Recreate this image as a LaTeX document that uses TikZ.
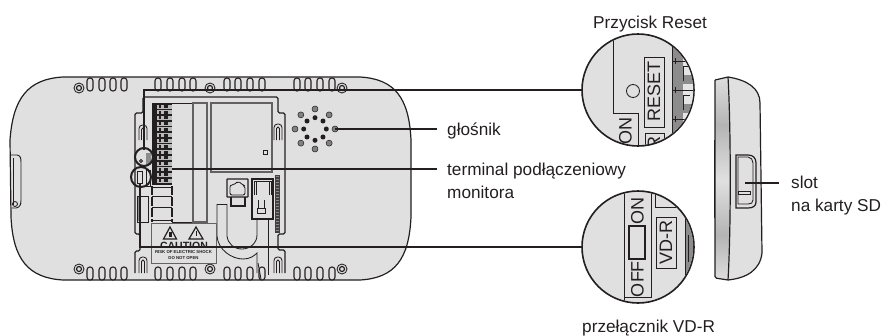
\documentclass[tikz,border=0pt]{standalone}
\usepackage{fontspec}
\usetikzlibrary{calc}
\setmainfont{Liberation Sans}
\definecolor{ink}{HTML}{231F20}
\definecolor{bodyg}{HTML}{E0E0E0}
\definecolor{midg}{HTML}{8C8C8C}
\tikzset{
 x=1pt,y=-1pt,
 thin line/.style={draw=ink,line width=0.85pt},
 med line/.style={draw=ink,line width=1.2pt},
 leader/.style={draw=ink,line width=2pt},
 lens/.style={circle,draw=ink,line width=1.6pt,minimum size=112pt,inner sep=0pt},
 small lens/.style={circle,draw=ink,line width=2pt,inner sep=0pt},
 label/.style={font=\fontsize{17.2}{20}\selectfont,text=ink,inner sep=0pt,align=left},
 tiny cap/.style={font=\bfseries\fontsize{4.3}{5}\selectfont,text=ink,inner sep=0pt},
 boxed/.style={draw=ink,line width=0.9pt,fill=bodyg},
 lens text/.style={font=\fontsize{18}{19}\selectfont,text=ink,inner sep=0pt,rotate=90},
 vent/.style={draw=ink,line width=1.1pt,fill=bodyg,rounded corners=2.8pt},
}
\newcommand{\slotgroup}[5]{\foreach \sx in {#1,#2,#3,#4}{\draw[vent] (\sx-3,#5) rectangle (\sx+3,#5+13);}}
\newcommand{\screwmark}[2]{\draw[thin line,fill=bodyg] (#1,#2) circle[radius=5pt];\draw[med line,fill=bodyg] (#1,#2) circle[radius=2.5pt];}
\newcommand{\keyhole}[3]{\draw[thin line,rounded corners=3.5pt] (#1-4,#3) -- (#1-4,#2) -- (#1+4,#2) -- (#1+4,#3);\draw[thin line,rounded corners=1.5pt] (#1-1.5,#3) -- (#1-1.5,#2+3) -- (#1+1.5,#2+3) -- (#1+1.5,#3);}
\begin{document}
\begin{tikzpicture}
\useasboundingbox (0,0) rectangle (885,335);
% ---------- rear body
\draw[med line,fill=bodyg] (63,77) -- (360,77)
  .. controls (395,79) and (409,98) .. (411,140) -- (411,217)
  .. controls (409,259) and (395,278) .. (360,280) -- (63,280)
  .. controls (28,278) and (13,259) .. (11,217) -- (10,140)
  .. controls (13,98) and (28,79) .. (63,77) -- cycle;
% left notch
\draw[thin line,rounded corners=3pt] (11,155) -- (20,155) -- (21,160) -- (21,203) -- (19,208) -- (11,208);
\draw[thin line,rounded corners=2pt] (13,158) -- (13,205);
\draw[thin line] (15,204) circle[radius=2.5pt];
% vents and screws
\foreach \yy in {78,267}{
 \slotgroup{90}{102}{113}{124}{\yy}
 \slotgroup{158}{170}{182}{193}{\yy}
 \slotgroup{227}{238}{250}{262}{\yy}
 \slotgroup{297}{308}{320}{332}{\yy}
}
\foreach \xx in {79,210,342}{\screwmark{\xx}{88}\screwmark{\xx}{269}}
% inner outline
\draw[med line,rounded corners=1.5pt] (135,273) -- (135,251) -- (140,251) -- (140,234) -- (135,234) -- (135,113) -- (143,113) -- (143,97) -- (278,97) -- (278,113) -- (285,113) -- (285,234) -- (278,234) -- (278,250) -- (285,250) -- (285,273);
\keyhole{143}{125}{140}
\keyhole{143}{257}{273}
\keyhole{278}{124}{140}
\keyhole{278}{257}{273}
% terminal block
\fill[ink] (152,103) rectangle (172,185);
\foreach \i in {0,...,13}{
 \fill[midg!60] (157,104.5+5.7*\i) rectangle (172,108.5+5.7*\i);
 \fill[ink] (159,105+5.7*\i) rectangle (160.5,108+5.7*\i);
 \fill[ink] (164,105+5.7*\i) rectangle (168,108+5.7*\i);
}
\draw[thin line] (172,103) -- (192,103);
\draw[thin line] (172,222) -- (192,222);
\draw[med line,draw=midg!60!ink] (193,103) rectangle (207,222);
\draw[med line,draw=midg!60!ink] (211,103) rectangle (272,172);
\draw[thin line] (263,150) rectangle (267,154);
% lower block
\draw[med line,dash pattern=on 9pt off 2pt] (152,186) -- (152,222) (172,186) -- (172,222);
\foreach \yy in {187,196,207,220}{\draw[thin line] (152,\yy) -- (172,\yy);}
% side small box
\draw[thin line] (137,196) rectangle (148,222);
\fill[midg] (137.5,197) rectangle (141,221);
% sockets
\draw[med line,rounded corners=0.5pt] (227,179) rectangle (248,197);
\draw[med line] (231,197) -- (231,206) -- (245,206) -- (245,197);
\draw[thin line,rounded corners=2pt] (230,185) -- (234,185) -- (238,181) -- (243,185) -- (245,186) -- (245,195) -- (230,195) -- cycle;
\draw[med line] (252,179) rectangle (273,219);
\draw[thin line] (254,181) -- (254,195) (271,181) -- (271,195) (254,181) -- (271,181);
\draw[thin line] (256,195) -- (256,182) (269,195) -- (269,182);
\draw[thin line] (257,208) rectangle (265,213);
\draw[thin line] (258,200) -- (258,208) (264,200) -- (264,208);
% vertical micro text strip
\fill[ink!85] (275,175) rectangle (280,233);
\draw[midg,line width=3pt,dash pattern=on 1pt off 2pt] (277.5,176) -- (277.5,232);
% cable
\draw[thin line] (217,204) -- (227,204);
\draw[thin line] (217,204) -- (217,236) .. controls (218,250) and (232,259) .. (243,259) .. controls (250,259) and (254,256) .. (257,253) -- (257,273);
\draw[thin line] (227,204) -- (227,236) .. controls (228,244) and (234,249) .. (242,249) .. controls (250,249) and (257,243) .. (257,235) -- (257,219);
\draw[thin line] (268,219) -- (268,275);
\draw[thin line] (258,263) -- (261,279);
% caution box
\draw[boxed,draw=ink!70] (151,223) rectangle (216,263);
\draw[med line] (170,227) -- (176.5,239) -- (163.5,239) -- cycle;
\draw[med line] (196,227) -- (203,239) -- (189,239) -- cycle;
\fill[ink] (169,232) rectangle (171.5,237);
\fill[ink] (195.5,231) rectangle (197,235.5);
\begin{scope}
\clip (151,240) rectangle (216,247);
\node[font=\bfseries\fontsize{10.5}{12}\selectfont,text=ink,inner sep=0pt] (cautionlab) at (184,245.5) {CAUTION};
\end{scope}
\node[tiny cap] (risk) at (183.5,252.5) {RISK OF ELECTRIC SHOCK};
\node[tiny cap] (noopen) at (183.5,258.5) {DO NOT OPEN};
% speaker
\foreach \a in {0,45,...,315}{
 \fill[midg!90!ink] ($(315,129)+(\a:20pt)$) circle[radius=3pt];
 \draw[ink,line width=0.5pt] ($(315,129)+(\a:20pt)$) circle[radius=3pt];
 \fill[ink] ($(315,129)+(\a:11.3pt)$) circle[radius=2.5pt];
}
% ---------- small marker circles
\fill[midg] (146,153) rectangle (151,165);
\draw[thin line] (141,161) circle[radius=1.5pt];
\draw[thin line] (137,171) rectangle (142,183);
\draw[thin line] (146,170) rectangle (150,186);
\node[small lens,minimum size=18pt] (markreset) at (144,157) {};
\node[small lens,minimum size=20pt] (markvd) at (141,177) {};
% ---------- lens: reset
\node[lens,fill=bodyg] (lensreset) at (638,90) {};
\begin{scope}
\clip (638,90) circle[radius=55.2pt];
\draw[thin line] (613,30) -- (613,113) -- (638,113) -- (638,150);
\node[lens text] (onlab) at (625.5,131) {ON};
\draw[thin line] (644,57) rectangle (664,127);
\node[lens text] (resetlab) at (654,91.5) {RESET};
\draw[thin line] (645,133) rectangle (664,160);
\node[lens text] (rlab) at (654,143) {R};
\draw[thin line] (633,91) circle[radius=6.5pt];
\fill[midg] (672,30) rectangle (700,150);
\draw[thin line] (672,30) -- (672,150);
\foreach \yy in {61,90,119}{
 \fill[bodyg!85] (683,\yy-6) -- (700,\yy-6) -- (700,\yy+14) -- (683,\yy+14) -- cycle;
 \draw[thin line] (675,\yy-3) -- (675,\yy+3);
 \draw[thin line] (672,\yy) -- (700,\yy);
 \draw[thin line] (683,\yy+20) -- (683,\yy+5) -- (690,\yy+5);
}
\end{scope}
% ---------- lens: VD-R
\node[lens,fill=bodyg] (lensvd) at (638,247) {};
\begin{scope}
\clip (638,247) circle[radius=55.2pt];
\draw[thin line] (624,185) -- (624,310);
\draw[thin line] (651,185) -- (651,298);
\draw[thin line] (624,297) -- (651,297);
\node[lens text] (onsw) at (637.5,211) {ON};
\draw[med line,fill=bodyg] (629,226) rectangle (645,259);
\node[lens text] (offsw) at (637.5,279) {OFF};
\draw[thin line] (656,217) rectangle (676,268);
\node[lens text] (vdr) at (666,242.5) {VD-R};
\draw[thin line] (655,185) rectangle (676,207);
\fill[midg] (685,185) rectangle (700,310);
\draw[thin line] (685,185) -- (685,310);
\draw[thin line] (688,235) -- (688,262);
\end{scope}
% ---------- side view
\fill[bodyg] (728,77) .. controls (747,80) and (760,88) .. (760,103) -- (762,253) .. controls (760,270) and (747,278) .. (728,280) -- cycle;
\begin{scope}
\clip (715,80) -- (728,77) .. controls (731,130) and (731,230) .. (728,280) -- (715,278) -- cycle;
\shade[top color=bodyg,bottom color=midg!65] (710,75) rectangle (735,125);
\shade[top color=midg!65,bottom color=bodyg] (710,125) rectangle (735,180);
\shade[top color=bodyg,bottom color=midg!65] (710,180) rectangle (735,235);
\shade[top color=midg!65,bottom color=bodyg] (710,235) rectangle (735,282);
\end{scope}
\draw[med line,rounded corners=1.5pt] (715,80) -- (728,77);
\draw[med line] (728,77) .. controls (747,80) and (760,88) .. (760,103) -- (762,253) .. controls (760,270) and (747,278) .. (728,280);
\draw[med line,rounded corners=1.5pt] (728,280) -- (715,278) -- (715,80);
\draw[med line] (728,77) .. controls (731,130) and (731,230) .. (728,280);
\draw[thin line] (714,140) -- (714,218);
\draw[med line] (736,208) -- (736,155) -- (748,155) .. controls (753,155) and (756,158) .. (756,163) -- (756,202) .. controls (756,206) and (753,208) .. (748,208) -- cycle;
\draw[thin line] (738,204) -- (738,157) -- (748,157) .. controls (751,157) and (753,160) .. (753,163) -- (753,200) .. controls (753,203) and (751,204) .. (748,204) -- cycle;
\draw[thin line] (738,191) rectangle (750,194);
% ---------- labels
\node[label,anchor=base west] (lreset) at (593,28) {Przycisk Reset};
\node[label,anchor=base west] (lgl) at (447,135) {głośnik};
\node[label,anchor=base west] (lterm) at (447,175) {terminal podłączeniowy};
\node[label,anchor=base west] (lmon) at (447,198) {monitora};
\node[label,anchor=base west] (lslot) at (791,188) {slot};
\node[label,anchor=base west] (lkarty) at (791,211) {na karty SD};
\node[label,anchor=base west] (lvd) at (582,332) {przełącznik VD-R};
% ---------- leaders
\coordinate (aSpk) at (335,129);
\coordinate (eSpk) at (437,129);
\coordinate (aTerm) at (172,169);
\coordinate (eTerm) at (437,169);
\coordinate (aSlot) at (745,183);
\coordinate (eSlot) at (779,183);
\coordinate (aRes) at (144,150);
\coordinate (aVd) at (140,183);
\draw[leader] (aRes) |- (lensreset.west);
\draw[leader] (aVd) |- (lensvd.west);
\draw[leader] (aSpk) -- (eSpk);
\draw[leader] (aTerm) -- (eTerm);
\draw[leader] (aSlot) -- (eSlot);
\end{tikzpicture}
\end{document}
